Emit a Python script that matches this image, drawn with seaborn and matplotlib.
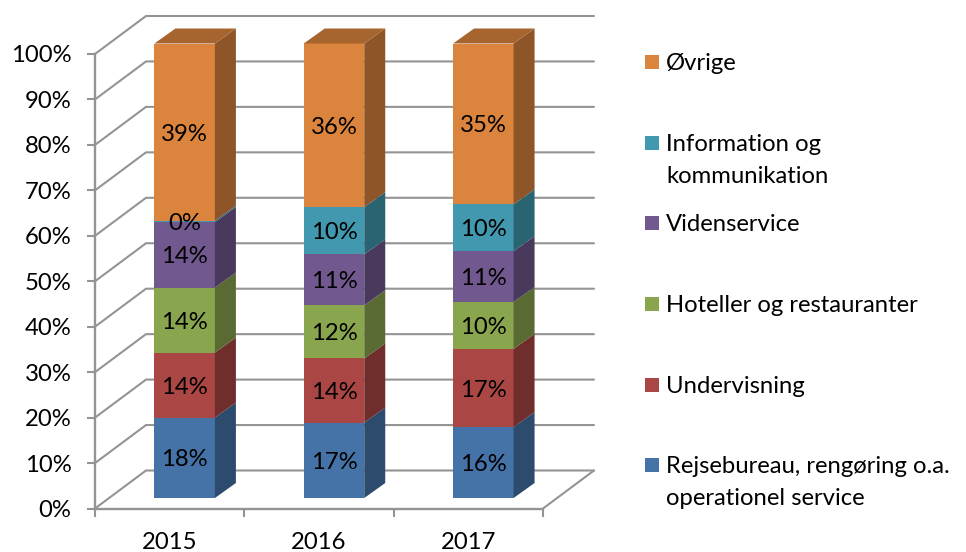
import matplotlib
matplotlib.use("Agg")
import matplotlib.pyplot as plt
import numpy as np
import pandas as pd
import seaborn as sns
from matplotlib.patches import Polygon, Rectangle
from matplotlib.transforms import Affine2D, IdentityTransform

# Chart data (shares in percent)
years = ["2015", "2016", "2017"]
rejsebureau = [17.7, 16.6, 15.6]
undervisning = [14.3, 14.1, 17.2]
hoteller = [14.3, 11.7, 10.3]
videnservice = [14.4, 11.2, 11.2]
information = [0.3, 10.4, 10.3]
oevrige = [39.0, 36.0, 35.4]

series_names = ["Rejsebureau, rengøring o.a.\noperationel service", "Undervisning",
                "Hoteller og restauranter", "Videnservice",
                "Information og\nkommunikation", "Øvrige"]
series_values = [rejsebureau, undervisning, hoteller, videnservice, information, oevrige]
colors = ["#4573A7", "#AA4644", "#89A54E", "#71588F", "#4198AF", "#DB843D"]
y_ticks = list(range(0, 101, 10))

sns.set_theme(style="white")
plt.rcParams["font.family"] = ["Lato", "DejaVu Sans"]
W, H = 966, 552
GRID = "#949494"
FS = 17.2

fig = plt.figure(figsize=(W / 100, H / 100), dpi=100)
ax = fig.add_axes([95 / W, 1 - 508.5 / H, 448 / W, 454.5 / H])

# 3D look: bars sit forward of the back wall
wall_dx, wall_dy = 51, 38
bar_off_x, bar_off_y = 15, 10.5
depth_dx, depth_dy = 21, 15
shift = Affine2D().translate(bar_off_x, bar_off_y)

# stacked front faces
bottom = np.zeros(len(years))
for name, vals, col in zip(series_names, series_values, colors):
    df = pd.DataFrame({"year": years, "share": vals})
    sns.barplot(data=df, x="year", y="share", color=col, saturation=1, width=0.405,
                bottom=bottom, zorder=3, linewidth=0, edgecolor="none", ax=ax)
    bottom = bottom + np.array(vals)

ax.set_xlim(-0.5, 2.5)
ax.set_ylim(0, 100)
fig.canvas.draw()

to_px = ax.transData.transform
for p in ax.patches:
    p.set_transform(ax.transData + shift)
    p.set_clip_on(False)

# side and top faces
for i in range(len(years)):
    base = 0.0
    for j, (vals, col) in enumerate(zip(series_values, colors)):
        rgb = np.array(matplotlib.colors.to_rgb(col))
        left, right = i - 0.405 / 2, i + 0.405 / 2
        x0, y0 = to_px((right, base)) + (bar_off_x, bar_off_y)
        x1, y1 = to_px((right, base + vals[i])) + (bar_off_x, bar_off_y)
        side = [(x0, y0), (x1, y1), (x1 + depth_dx, y1 + depth_dy), (x0 + depth_dx, y0 + depth_dy)]
        ax.add_patch(Polygon(side, closed=True, fc=rgb * 0.65, ec="none", zorder=3,
                             transform=IdentityTransform(), clip_on=False))
        if j == len(series_values) - 1:
            xl, _ = to_px((left, 0)) + (bar_off_x, bar_off_y)
            top = [(xl, y1), (x1, y1), (x1 + depth_dx, y1 + depth_dy), (xl + depth_dx, y1 + depth_dy)]
            ax.add_patch(Polygon(top, closed=True, fc=rgb * 0.76, ec="none", zorder=3,
                                 transform=IdentityTransform(), clip_on=False))
        label = f"{round(vals[i])}%"
        ax.text(i, base + vals[i] / 2, label, ha="center", va="center_baseline", fontsize=FS,
                color="black", zorder=6, transform=ax.transData + shift)
        base += vals[i]

# walls: back wall grid lines, left wall diagonals, floor
x_l, _ = to_px((-0.5, 0))
x_r, _ = to_px((2.5, 0))
for t in y_ticks:
    _, y = to_px((0, t))
    ax.plot([x_l, x_l + wall_dx, x_r + wall_dx], [y, y + wall_dy, y + wall_dy], color=GRID, lw=1.5,
            transform=IdentityTransform(), clip_on=False, zorder=1, solid_joinstyle="miter")
_, y_0 = to_px((0, 0))
ax.plot([x_r, x_r + wall_dx], [y_0, y_0 + wall_dy], color=GRID, lw=1.5,
        transform=IdentityTransform(), clip_on=False, zorder=1)

# axes
for s in ["top", "right"]:
    ax.spines[s].set_visible(False)
for s in ["left", "bottom"]:
    ax.spines[s].set_color(GRID)
    ax.spines[s].set_linewidth(1.7)
ax.set_xlabel("")
ax.set_ylabel("")
ax.set_yticks(y_ticks)
ax.set_yticklabels([f"{t}%" for t in y_ticks], fontsize=FS, color="black", va="center_baseline")
ax.set_xticks(range(len(years)))
ax.set_xticklabels(years, fontsize=FS, color="black")
ax.set_xticks([-0.5, 0.5, 1.5, 2.5], minor=True)
ax.tick_params(axis="y", left=True, length=6, width=1.5, color=GRID, pad=11)
ax.tick_params(axis="x", which="major", bottom=False, pad=11)
ax.tick_params(axis="x", which="minor", bottom=True, length=6, width=1.5, color=GRID)

# legend, written out by hand to keep the even row spacing
legend_y = [465, 385, 304, 223, 143, 62]
for name, col, ly in zip(series_names, colors, legend_y):
    fig.add_artist(Rectangle((645 / W, 1 - (ly + 7) / H), 14 / W, 14 / H, fc=col, ec="none",
                             transform=fig.transFigure))
    for k, line in enumerate(name.split("\n")):
        fig.text(666 / W, 1 - (ly + 8 + 32 * k) / H, line, ha="left", va="baseline",
                 fontsize=FS, color="black")

plt.savefig("out.png")
